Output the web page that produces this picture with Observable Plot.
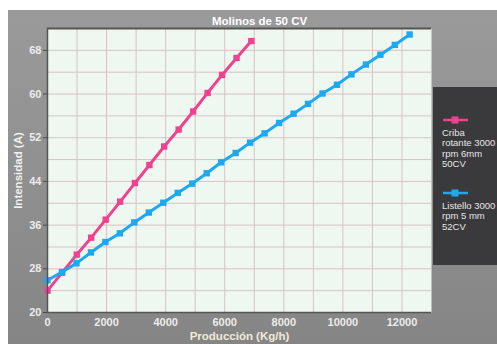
<!DOCTYPE html>
<html>
<head>
<meta charset="utf-8">
<script src="https://cdn.jsdelivr.net/npm/d3@7"></script>
<script src="https://cdn.jsdelivr.net/npm/@observablehq/plot@0.6"></script>
<style>
  html, body { margin: 0; padding: 0; background: #fff; }
  #wrap { position: relative; width: 497px; height: 344px; overflow: hidden; font-family: "Liberation Sans", Arial, sans-serif; }
  #bg { position: absolute; left: 8px; top: 10px; right: 0; bottom: 0;
        background: linear-gradient(180deg, #9a9a9a 0%, #8f8f8f 55%, #858585 100%); }
  #chart { position: absolute; left: 0; top: 0; }
  #legend { position: absolute; left: 433px; top: 87px; width: 64px; height: 178px; background: #3a393b;
            color: #e6e6e6; font-size: 9.5px; line-height: 10.4px; }
  .entry { position: absolute; left: 9px; white-space: nowrap; }
  .entry svg { display: block; margin-bottom: 3px; margin-left: 1px; }
</style>
</head>
<body>
<div id="wrap">
  <div id="bg"></div>
  <div id="chart"></div>
  <div id="legend"></div>
</div>
<script>
// ---- data ----
const title = "Molinos de 50 CV";
const xLabel = "Producción (Kg/h)";
const yLabel = "Intensidad (A)";

const seriesNames = ["Criba rotante 3000 rpm 6mm 50CV", "Listello 3000 rpm 5 mm 52CV"];
const seriesColors = ["#f0428e", "#1ea8f2"];
const legendLines = [["Criba", "rotante 3000", "rpm 6mm", "50CV"], ["Listello 3000", "rpm 5 mm", "52CV"]];

const cribaX = [0, 495, 990, 1480, 1970, 2460, 2960, 3450, 3950, 4440, 4930, 5420, 5910, 6400, 6900];
const cribaY = [24.0, 27.3, 30.6, 33.7, 37.0, 40.3, 43.7, 47.0, 50.4, 53.5, 56.8, 60.2, 63.5, 66.6, 69.7];

const listelloX = [0, 490, 980, 1470, 1960, 2450, 2940, 3430, 3920, 4410, 4900, 5390, 5880, 6370, 6860,
                   7350, 7840, 8330, 8820, 9310, 9800, 10290, 10780, 11270, 11760, 12260];
const listelloY = [25.9, 27.4, 29.0, 31.0, 32.9, 34.5, 36.5, 38.3, 40.1, 41.9, 43.6, 45.5, 47.5, 49.2, 51.1,
                   52.8, 54.7, 56.4, 58.2, 60.1, 61.7, 63.6, 65.4, 67.2, 69.0, 70.9];

const xTicks = [0, 2000, 4000, 6000, 8000, 10000, 12000];
const xGrid = [1000, 2000, 3000, 4000, 5000, 6000, 7000, 8000, 9000, 10000, 11000, 12000];
const yTicks = [20, 28, 36, 44, 52, 60, 68];
const yGrid = [24, 28, 32, 36, 40, 44, 48, 52, 56, 60, 64, 68];

// ---- build table ----
const data = [
  ...cribaX.map((x, i) => ({serie: seriesNames[0], x, y: cribaY[i]})),
  ...listelloX.map((x, i) => ({serie: seriesNames[1], x, y: listelloY[i]}))
];

const color = {domain: seriesNames, range: seriesColors};

const chart = Plot.plot({
  width: 497,
  height: 344,
  marginLeft: 47,
  marginRight: 66,
  marginTop: 28,
  marginBottom: 32,
  style: {background: "transparent", fontFamily: "Liberation Sans, Arial, sans-serif", overflow: "visible"},
  x: {domain: [0, 13000]},
  y: {domain: [20, 72]},
  color,
  marks: [
    Plot.frame({fill: "#eef8f1"}),
    Plot.gridX(xGrid, {stroke: "#d8c2c4", strokeOpacity: 1, strokeWidth: 1}),
    Plot.gridY(yGrid, {stroke: "#d8c2c4", strokeOpacity: 1, strokeWidth: 1}),
    Plot.axisX({ticks: xTicks, tickSize: 0, tickPadding: 6, fontSize: 11, fontWeight: "bold",
                fill: "#ececec", label: null, tickFormat: d => String(d)}),
    Plot.axisX({ticks: [], label: xLabel, labelAnchor: "center", labelArrow: "none", labelOffset: 27,
                fontSize: 11.5, fontWeight: "bold", fill: "#f1ead6"}),
    Plot.axisY({ticks: yTicks, tickSize: 4, tickPadding: 2, fontSize: 11, fontWeight: "bold",
                fill: "#ececec", stroke: "#4a4a4a", label: null, tickFormat: d => String(d)}),
    Plot.axisY({ticks: [], label: yLabel, labelAnchor: "center", labelArrow: "none", labelOffset: 34,
                fontSize: 11.5, fontWeight: "bold", fill: "#f0f0f0"}),
    Plot.line(data, {x: "x", y: "y", z: "serie", stroke: "serie", strokeWidth: 3}),
    Plot.dot(data, {x: "x", y: "y", fill: "serie", symbol: "square", r: 3.6}),
    Plot.text([title], {frameAnchor: "top", dy: -12, dx: 20, fontSize: 11.5, fontWeight: "bold", fill: "#ffffff"}),
    Plot.ruleY([20], {stroke: "#555", strokeWidth: 1.5}),
    Plot.ruleX([0], {stroke: "#555", strokeWidth: 1.5}),
    Plot.ruleY([72], {stroke: "#555", strokeWidth: 2})
  ]
});
document.getElementById("chart").appendChild(chart);

// ---- legend ----
const legend = d3.select("#legend");
const tops = [28, 101];
seriesNames.forEach((name, i) => {
  const e = legend.append("div").attr("class", "entry").style("top", tops[i] + "px");
  const s = e.append("svg").attr("width", 26).attr("height", 10);
  s.append("line").attr("x1", 0).attr("x2", 25).attr("y1", 5).attr("y2", 5)
    .attr("stroke", seriesColors[i]).attr("stroke-width", 2.5);
  s.append("rect").attr("x", 8.5).attr("y", 1.5).attr("width", 7).attr("height", 7).attr("fill", seriesColors[i]);
  legendLines[i].forEach(t => e.append("div").text(t));
});
</script>
</body>
</html>
